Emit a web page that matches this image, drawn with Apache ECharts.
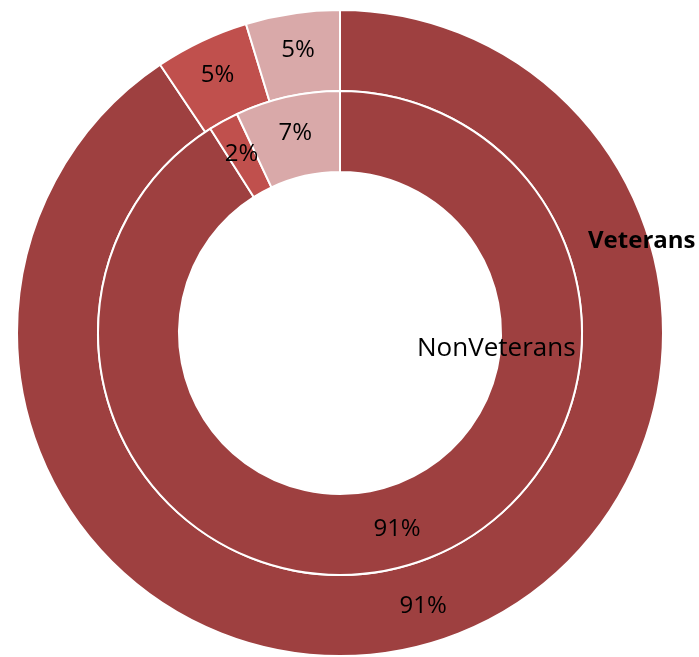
<!DOCTYPE html>
<html>
<head>
<meta charset="utf-8">
<script src="https://cdn.jsdelivr.net/npm/echarts@6/dist/echarts.min.js"></script>
<style>
  html, body { margin: 0; padding: 0; background: #fff; }
  #chart { width: 699px; height: 657px; }
</style>
</head>
<body>
<div id="chart"></div>
<script>
const categories = ['Group A', 'Group B', 'Group C']
const outerValues = [90.6, 4.7, 4.7]
const innerValues = [91, 2, 7]
const sliceColors = ['#9E4040', '#C0504D', '#D9A9A9']
const outerName = 'Veterans'
const innerName = 'NonVeterans'

const chart = echarts.init(document.getElementById('chart'))

function ring(name, values, radius) {
  return {
    name: name,
    type: 'pie',
    center: [340, 333],
    radius: radius,
    startAngle: 90,
    clockwise: true,
    silent: true,
    data: values.map((v, i) => ({ name: categories[i], value: v })),
    itemStyle: {
      borderColor: '#fff',
      borderWidth: 2
    },
    label: {
      show: true,
      position: 'inside',
      formatter: p => Math.round(p.percent) + '%',
      color: '#000',
      fontFamily: 'Open Sans',
      fontSize: 24
    },
    labelLine: { show: false }
  }
}

const option = {
  animation: false,
  color: sliceColors,
  series: [
    ring(outerName, outerValues, [242, 323]),
    ring(innerName, innerValues, [161, 242])
  ],
  graphic: [
    {
      type: 'text',
      z: 100,
      left: 588,
      top: 229,
      style: {
        text: outerName,
        fill: '#000',
        font: 'bold 24px "Open Sans"'
      }
    },
    {
      type: 'text',
      z: 100,
      left: 417,
      top: 336,
      style: {
        text: innerName,
        fill: '#000',
        font: '26px "Open Sans"'
      }
    }
  ]
}

chart.setOption(option)
</script>
</body>
</html>
